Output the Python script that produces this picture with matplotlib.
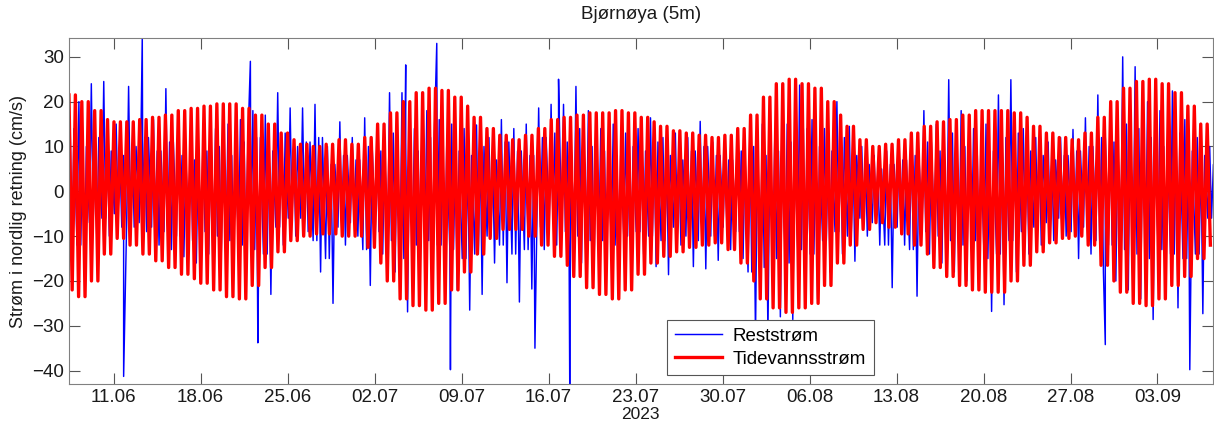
import numpy as np
import matplotlib
matplotlib.use('Agg')
import matplotlib.pyplot as plt
import matplotlib.dates as mdates

plt.rcParams['font.family'] = ['Liberation Sans', 'DejaVu Sans']

start = np.datetime64('2023-06-07T00:00')

# tidevannsstrøm: daglige topper og bunner (cm/s), dag 0 = 07.06
tide_high = [21.5, 20, 18, 16, 15.5, 15.5, 16, 16.5, 17, 18,
             18.5, 19, 19.5, 19.5, 18.5, 17, 15, 13, 11.5, 10.5,
             10, 10.5, 11.5, 10.5, 12, 15, 17.5, 20, 22, 23,
             22.5, 21, 19, 16.5, 14, 12.5, 11.5, 12.5, 14, 16,
             16.5, 17, 17.5, 17.5, 18, 17.5, 16.5, 15.5, 14.5, 13.5,
             13, 12.5, 12, 12.5, 14, 17, 21, 24, 25, 24,
             23, 20, 17, 14.5, 11.5, 10, 10.5, 11.5, 13, 14.5,
             15.5, 16, 17, 18, 18, 18, 17.5, 16.5, 14.5, 13,
             12, 11.5, 13, 16.5, 20, 23, 24.5, 25, 24, 22,
             19, 15, 12]
tide_low = [-22, -23.5, -20, -14, -10.5, -12, -14, -15.5, -17, -18.5,
            -19.5, -20.5, -22, -23.5, -24, -21, -17, -13.5, -11, -10,
            -9.5, -9.5, -10, -10, -12.5, -16, -20, -24, -25.5, -26.5,
            -25, -22, -18, -14, -10.5, -8.5, -8.5, -10, -12, -14.5,
            -16.5, -19, -21.5, -23, -24, -22, -18.5, -16, -14.5, -13.5,
            -12.5, -12, -11.5, -13, -16, -20, -24, -26, -27, -26,
            -25, -21, -16, -12, -8.5, -7, -8, -9.5, -12, -14,
            -17, -19, -21, -22, -22.5, -22.5, -20, -16.5, -13.5, -11.5,
            -10.5, -10, -12, -16.5, -20, -22.5, -25, -25.5, -24, -21,
            -19, -15, -12]

# reststrøm: daglige ytterverdier (cm/s)
rest_high = [24.5, 20, 24, 24.5, 15, 23.4, 14, 16, 22.9, 18,
             14, 13, 14, 15, 16, 18, 17, 22, 18.6, 18.6,
             19.4, 10, 15.5, 12, 16.4, 14, 22, 22, 14, 18,
             16, 15, 14, 14.8, 12, 16, 14, 15, 18.6, 19.4,
             19.4, 23.4, 18, 14, 15, 13, 14, 16.4, 12, 13,
             12, 15.6, 11, 12, 13, 14, 15, 12, 15, 23.7,
             16, 14, 20, 14.5, 10, 8, 9, 10, 12, 18,
             15, 24.9, 18, 14, 15, 21.5, 24.9, 14, 12, 11,
             12, 13.8, 16.4, 21.5, 18, 30, 27.8, 20, 18, 22.4,
             16, 12, 10]
rest_low = [-15, -19, -12, -10, -8, -8, -9, -12, -13, -14.6,
            -16, -14, -15, -16, -18, -20, -23, -12, -10, -9,
            -18, -25, -12, -10, -21, -14, -18, -26.9, -20, -18,
            -20, -22, -26.5, -23, -16, -20.4, -24.7, -21.8, -13, -12,
            -14, -16, -18, -18, -19, -16, -14, -16.8, -18.6, -12,
            -16.8, -17.3, -15.4, -13, -15, -33, -32, -28, -28.6, -22,
            -24, -18, -14, -15.6, -10, -12, -21.5, -12, -23.4, -14,
            -16, -18, -20, -19, -26.8, -25.3, -18, -14, -12, -11,
            -10, -15, -14, -18.2, -20, -22, -24, -28.6, -22, -26,
            -27.3, -27.3, -9]
# reststrøm: typiske nivåer mellom ytterpunktene
rest_mid_high = [14, 10, 12, 9, 8, 10, 12, 9, 11, 8,
                 7, 9, 10, 8, 11, 12, 9, 13, 10, 11,
                 12, 6, 8, 7, 10, 9, 13, 11, 9, 12,
                 10, 9, 8, 10, 7, 11, 9, 8, 12, 13,
                 11, 14, 10, 9, 8, 10, 9, 11, 8, 7,
                 9, 10, 8, 7, 9, 10, 8, 9, 11, 14,
                 10, 9, 12, 8, 6, 5, 6, 7, 8, 11,
                 9, 13, 10, 8, 9, 12, 13, 9, 8, 7,
                 8, 9, 10, 12, 11, 15, 14, 12, 10, 13,
                 9, 8, 6]
rest_mid_low = [-9, -12, -7, -6, -5, -6, -7, -8, -9, -10,
                -11, -9, -10, -11, -12, -13, -14, -8, -6, -6,
                -11, -15, -8, -7, -13, -9, -11, -15, -12, -11,
                -12, -13, -15, -14, -10, -12, -14, -13, -8, -7,
                -9, -10, -11, -11, -12, -10, -9, -10, -11, -8,
                -10, -11, -10, -8, -9, -18, -17, -15, -16, -13,
                -14, -11, -9, -10, -6, -7, -12, -8, -13, -9,
                -10, -11, -12, -11, -15, -14, -11, -9, -8, -7,
                -6, -9, -8, -11, -12, -13, -14, -15, -13, -14,
                -15, -14, -6]

# enkeltstående topper i reststrømmen (dag, cm/s)
spike_day = [4.8, 6.3, 15.0, 15.6, 27.5, 30.0, 31.1, 37.9, 39.8, 40.7, 83.8, 90.6]
spike_val = [-41.3, 34.5, 29, -33.8, 28.2, 33, -39.8, -35, 25, -43, -34.2, -39.8]


def to_dates(days):
    return start + (np.asarray(days) * 86400).astype('timedelta64[s]')


# tidevann: ytterpunkt hver halve M2-periode
half_period = 12.42 / 24 / 2
t_tide = np.arange(0.4, 92.45, half_period)
idx = t_tide.astype(int)
v_tide = np.where(np.arange(len(t_tide)) % 2 == 0,
                  np.array(tide_high)[idx], np.array(tide_low)[idx])

# reststrøm: seks punkter per døgn pluss toppene
days = np.arange(len(rest_high))
t_rest = np.concatenate([days + 0.05, days + 0.2, days + 0.35,
                         days + 0.5, days + 0.65, days + 0.8, spike_day])
v_rest = np.concatenate([rest_mid_low, rest_high, rest_mid_low,
                         rest_mid_high, rest_low, rest_mid_high, spike_val])
order = np.argsort(t_rest)
t_rest, v_rest = t_rest[order], v_rest[order]

fig = plt.figure(figsize=(12.14, 4.32), dpi=100)
ax = fig.add_axes([0.0568, 0.111, 0.9422, 0.801])

ax.plot(to_dates(t_rest), v_rest, color='#0000ff', lw=1.05, label='Reststrøm')
ax.plot(to_dates(t_tide), v_tide, color='#ff0000', lw=2.4, label='Tidevannsstrøm')

ax.set_xlim(to_dates([0.4, 92.45]))
ax.set_ylim(-43, 34.2)
ax.set_yticks(np.arange(-40, 31, 10))
ax.xaxis.set_major_locator(mdates.WeekdayLocator(byweekday=mdates.SU))
ax.xaxis.set_major_formatter(mdates.DateFormatter('%d.%m'))

for s in ax.spines.values():
    s.set_color('#808080')
ax.tick_params(direction='in', length=8, width=0.8, top=True, right=True,
               color='#555555', labelsize=13.5, labelcolor='#1a1a1a')

ax.set_title('Bjørnøya (5m)', fontsize=13.5, color='#1a1a1a', pad=14)
ax.set_ylabel('Strøm i nordlig retning (cm/s)', fontsize=13, color='#1a1a1a',
              labelpad=4)
ax.set_xlabel('2023', fontsize=12.5, color='#1a1a1a', labelpad=1)

leg = ax.legend(loc='lower left', bbox_to_anchor=(0.523, 0.026), fontsize=13.5,
                fancybox=False, framealpha=1, edgecolor='#555555',
                handlelength=2.5, borderpad=0.4, labelspacing=0.3,
                handletextpad=0.6, borderaxespad=0)
leg.get_frame().set_linewidth(0.8)

fig.savefig('out.png', dpi=100)
